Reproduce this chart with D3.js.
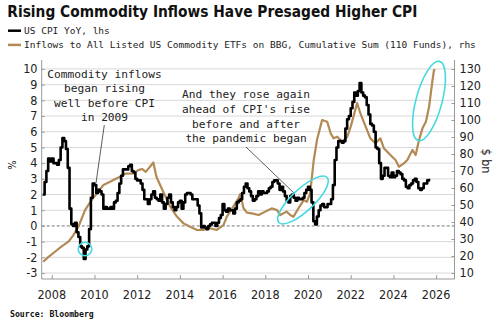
<!DOCTYPE html>
<html><head><meta charset="utf-8">
<script src="https://cdn.jsdelivr.net/npm/d3@7"></script>
<style>
html,body{margin:0;padding:0;background:#fff;}
svg{display:block;}
.cond{font-family:"DejaVu Sans Condensed","DejaVu Sans",sans-serif;font-stretch:condensed;}
.mono{font-family:"DejaVu Sans Mono","Liberation Mono",monospace;}
</style></head>
<body>
<svg id="chart" width="500" height="328"></svg>
<script>
// ---------- DATA ----------
const title = "Rising Commodity Inflows Have Presaged Higher CPI";
const legendLabels = ["US CPI YoY, lhs", "Inflows to All Listed US Commodity ETFs on BBG, Cumulative Sum (110 Funds), rhs"];
const cpiStart = [2007, 8]; // first month of CPI series
const cpiValues = [
 2.0,2.8,3.5,4.3,4.1,                       // 2007 Aug-Dec
 4.3,4.0,4.0,3.9,4.2,5.0,5.6,5.4,4.9,3.7,1.1,0.1,   // 2008
 0.0,0.2,-0.4,-0.7,-1.3,-1.4,-2.1,-1.5,-1.3,-0.2,1.8,2.7, // 2009
 2.6,2.1,2.3,2.2,2.0,1.1,1.2,1.1,1.1,1.2,1.1,1.5,   // 2010
 1.6,2.1,2.7,3.2,3.6,3.6,3.6,3.8,3.9,3.5,3.4,3.0,   // 2011
 2.9,2.9,2.7,2.3,1.7,1.7,1.4,1.7,2.0,2.2,1.8,1.7,   // 2012
 1.6,2.0,1.5,1.1,1.4,1.8,2.0,1.5,1.2,1.0,1.2,1.5,   // 2013
 1.6,1.1,1.5,2.0,2.1,2.1,2.0,1.7,1.7,1.7,1.3,0.8,   // 2014
 -0.1,0.0,-0.1,-0.2,0.0,0.1,0.2,0.2,0.0,0.2,0.5,0.7, // 2015
 1.4,1.0,0.9,1.1,1.0,1.0,0.8,1.1,1.5,1.6,1.7,2.1,   // 2016
 2.5,2.7,2.4,2.2,1.9,1.6,1.7,1.9,2.2,2.0,2.2,2.1,   // 2017
 2.1,2.2,2.4,2.5,2.8,2.9,2.9,2.7,2.3,2.5,2.2,1.9,   // 2018
 1.6,1.5,1.9,2.0,1.8,1.6,1.8,1.7,1.7,1.8,2.1,2.3,   // 2019
 2.5,2.3,1.5,0.3,0.1,0.6,1.0,1.3,1.4,1.2,1.2,1.4,   // 2020
 1.4,1.7,2.6,4.2,5.0,5.4,5.4,5.3,5.4,6.2,6.8,7.0,   // 2021
 7.5,7.9,8.5,8.3,8.6,9.1,8.5,8.3,8.2,7.7,7.1,6.5,   // 2022
 6.4,6.0,5.0,4.9,4.0,3.0,3.2,3.7,3.7,3.2,3.1,3.4,   // 2023
 3.1,3.2,3.5,3.4,3.3,3.0,2.9,2.5,2.4,2.6,2.7,2.9,   // 2024
 3.0,2.8,2.4,2.3,2.4,2.7,2.7,2.9,3.0                // 2025
];
const inflowYears = [2007.60,2007.85,2008.15,2008.45,2008.78,2009.00,2009.25,2009.56,2009.87,2010.18,2010.42,2010.73,2010.89,2011.20,2011.45,2011.83,2012.05,2012.23,2012.40,2012.60,2012.76,2012.90,2013.23,2013.55,2013.86,2014.17,2014.48,2014.80,2015.10,2015.42,2015.73,2016.04,2016.20,2016.50,2016.75,2016.83,2016.98,2017.14,2017.37,2017.69,2018.00,2018.30,2018.55,2018.70,2019.00,2019.17,2019.32,2019.55,2019.80,2019.95,2020.10,2020.27,2020.42,2020.66,2020.90,2021.06,2021.20,2021.37,2021.60,2021.84,2022.00,2022.15,2022.30,2022.45,2022.70,2022.92,2023.16,2023.39,2023.55,2023.78,2023.94,2024.10,2024.26,2024.49,2024.65,2024.89,2025.04,2025.20,2025.36,2025.52,2025.67,2025.83,2025.90,2025.96];
const inflowValues = [16.6,19.5,22.5,25.5,28.4,32,37.2,47,53,57.8,61.8,63.7,64.7,66.6,68.5,68.6,70.5,71.2,69.5,72.5,75.0,66.6,57.5,49,43.2,39.2,37.2,35.3,35.3,36.3,35.3,38.2,43.2,49,54,56.5,48.1,45.5,45.1,44.1,46.1,48,47,44.1,46.1,44.1,43.1,48,52.9,51.9,56.9,76.5,88.2,100,99,92.2,89.2,90.2,87.2,90.2,96.1,103,110,104,96.1,89.2,86.3,89.2,83.4,80.4,78.4,76.5,72.5,74.5,76.5,82.4,79.4,88.2,95.1,99,107.8,123.5,129.4,129.4];
const xTicks = [2008,2010,2012,2014,2016,2018,2020,2022,2024,2026];
const leftTicks = [-3,-2,-1,0,1,2,3,4,5,6,7,8,9,10];
const rightTicks = [10,20,30,40,50,60,70,80,90,100,110,120,130];
const note1 = ["Commodity inflows","began rising","well before CPI","in 2009"];
const note2 = ["And they rose again","ahead of CPI's rise","before and after","the pandemic began"];
const sourceText = "Source: Bloomberg";

// ---------- LAYOUT ----------
const L = 41.7, R = 454.5, T = 60, B = 279;
const svg = d3.select("#chart");
const x = d3.scaleLinear().domain([2007.53, 2026.86]).range([L, R]);
const yL = d3.scaleLinear().domain([-3.38, 10.57]).range([B, T]);
const yR = d3.scaleLinear().domain([6.47, 135.3]).range([B, T]);
const cpiColor = "#000", inflowColor = "#b38a55", cyan = "#45d9e0";

// gridlines
svg.append("g").selectAll("line").data(leftTicks.filter(d=>d!==0)).join("line")
  .attr("x1", L).attr("x2", R).attr("y1", d=>yL(d)).attr("y2", d=>yL(d))
  .attr("stroke", "#d8d8d8").attr("stroke-width", 1);
svg.append("line").attr("x1", L).attr("x2", R).attr("y1", yL(0)).attr("y2", yL(0))
  .attr("stroke", "#777").attr("stroke-width", 1).attr("stroke-dasharray", "3,2");

// axes
const axisColor = "#999";
const gL = svg.append("g").attr("transform", `translate(${L},0)`)
  .call(d3.axisRight(yL).tickValues(leftTicks).tickSize(3).tickFormat(""));
const gR = svg.append("g").attr("transform", `translate(${R},0)`)
  .call(d3.axisLeft(yR).tickValues(rightTicks).tickSize(3).tickFormat(""));
const gB = svg.append("g").attr("transform", `translate(0,${B})`)
  .call(d3.axisTop(x).tickValues(xTicks).tickSize(4).tickFormat(""));
[gL,gR,gB].forEach(g=>{ g.selectAll("path").attr("stroke", axisColor).attr("d", null); g.selectAll("line").attr("stroke", axisColor); });
svg.append("line").attr("x1",L).attr("x2",L).attr("y1",T).attr("y2",B).attr("stroke",axisColor);
svg.append("line").attr("x1",R).attr("x2",R).attr("y1",T).attr("y2",B).attr("stroke",axisColor);
svg.append("line").attr("x1",L).attr("x2",R).attr("y1",B).attr("y2",B).attr("stroke",axisColor);

// tick labels
svg.append("g").selectAll("text").data(leftTicks).join("text").attr("class","cond")
  .attr("x", 37.5).attr("y", d=>yL(d)+4.3).attr("text-anchor","end")
  .attr("font-size", 12.5).attr("fill","#222").text(d=>d);
svg.append("g").selectAll("text").data(rightTicks).join("text").attr("class","cond")
  .attr("x", 459.5).attr("y", d=>yR(d)+4.3).attr("text-anchor","start")
  .attr("font-size", 12.5).attr("fill","#222").text(d=>d);
svg.append("g").selectAll("text").data(xTicks).join("text").attr("class","cond")
  .attr("x", d=>x(d)).attr("y", 298.5).attr("text-anchor","middle")
  .attr("font-size", 12.5).attr("fill","#222").text(d=>d);
svg.append("text").attr("class","cond").attr("transform","translate(16,165) rotate(-90)")
  .attr("text-anchor","middle").attr("font-size",11).attr("fill","#222").text("%");
svg.append("text").attr("class","cond").attr("transform","translate(482,161) rotate(90)")
  .attr("text-anchor","middle").attr("font-size",12.5).attr("fill","#222").text("$ bn");

// series
const cpiData = cpiValues.map((v,i)=>({t: cpiStart[0] + (cpiStart[1]-1+i)/12, v}));
const inflowData = inflowYears.map((t,i)=>({t, v: inflowValues[i]}));
svg.append("path").datum(inflowData).attr("fill","none").attr("stroke",inflowColor)
  .attr("stroke-width",2.2).attr("stroke-linejoin","round")
  .attr("d", d3.line().x(d=>x(d.t)).y(d=>yR(d.v)));
svg.append("path").datum(cpiData).attr("fill","none").attr("stroke",cpiColor)
  .attr("stroke-width",2.6).attr("stroke-linejoin","round")
  .attr("d", d3.line().curve(d3.curveStepAfter).x(d=>x(d.t)).y(d=>yL(d.v)));

// annotations
const n1 = svg.append("text").attr("class","mono").attr("font-size",11.2).attr("fill","#222").attr("text-anchor","middle");
note1.forEach((s,i)=> n1.append("tspan").attr("x",104.5).attr("y",77.7+i*14.4).text(s));
const n2 = svg.append("text").attr("class","mono").attr("font-size",11.2).attr("fill","#222").attr("text-anchor","middle");
note2.forEach((s,i)=> n2.append("tspan").attr("x",246).attr("y",98.3+i*14.6).text(s));
svg.append("line").attr("x1",104.3).attr("y1",125).attr("x2",96).attr("y2",183)
  .attr("stroke","#333").attr("stroke-width",0.8);
svg.append("line").attr("x1",246).attr("y1",147).attr("x2",294.5).attr("y2",193.5)
  .attr("stroke","#333").attr("stroke-width",0.8);

// highlight ellipses
svg.append("ellipse").attr("cx",85).attr("cy",249).attr("rx",6.8).attr("ry",6.8)
  .attr("fill","none").attr("stroke",cyan).attr("stroke-width",1.6);
svg.append("ellipse").attr("transform","translate(303,200) rotate(-43)").attr("rx",33).attr("ry",11)
  .attr("fill","none").attr("stroke",cyan).attr("stroke-width",1.6);
svg.append("ellipse").attr("transform","translate(429,101) rotate(15)").attr("rx",13).attr("ry",41)
  .attr("fill","none").attr("stroke",cyan).attr("stroke-width",1.6);

// title and legend
svg.append("text").attr("x",7.3).attr("y",17.3).attr("font-family","'DejaVu Sans',sans-serif")
  .attr("font-weight","bold").attr("font-size",15.5).attr("fill","#111")
  .attr("textLength",410).attr("lengthAdjust","spacingAndGlyphs").text(title);
const legColors = [cpiColor, inflowColor];
legendLabels.forEach((s,i)=>{
  const yy = 30.7 + i*14.2;
  svg.append("line").attr("x1",8).attr("x2",21).attr("y1",yy).attr("y2",yy)
    .attr("stroke",legColors[i]).attr("stroke-width",2.5);
  svg.append("text").attr("class","mono").attr("x",24).attr("y",yy+3.4)
    .attr("font-size",9.5).attr("fill","#222").text(s);
});
svg.append("text").attr("class","mono").attr("x",10).attr("y",316.5).attr("font-size",8.2)
  .attr("font-weight","bold").attr("fill","#111").text(sourceText);
</script>
</body></html>
